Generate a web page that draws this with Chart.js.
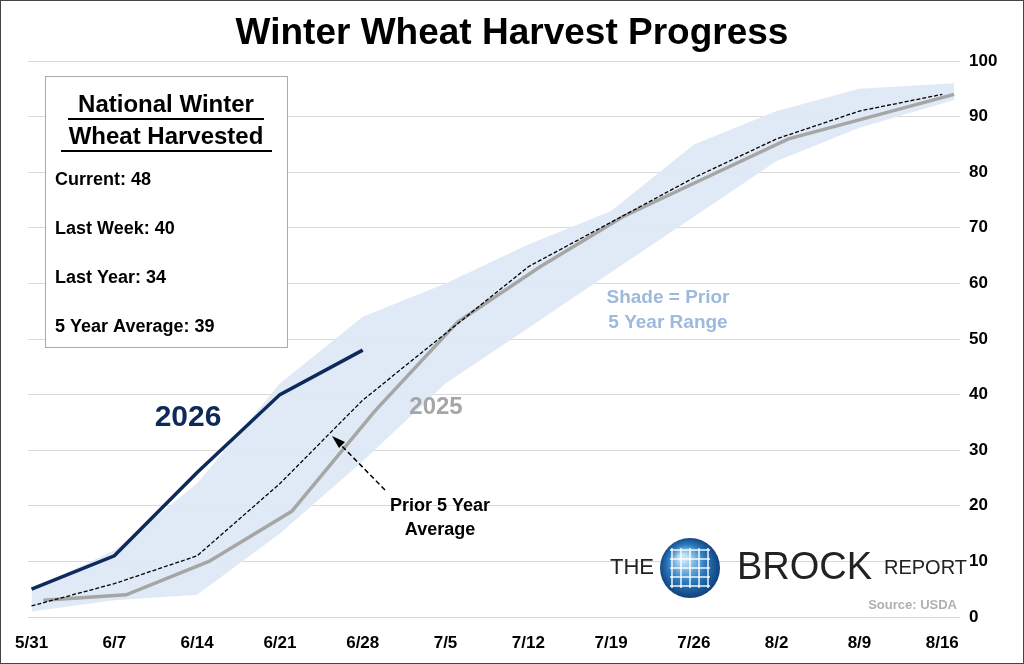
<!DOCTYPE html>
<html><head><meta charset="utf-8">
<script src="https://cdn.jsdelivr.net/npm/chart.js@4"></script>
<style>html,body{margin:0;padding:0;background:#fff}canvas{display:block}</style>
</head><body>
<div style="width:1024px;height:664px"><canvas id="c"></canvas></div>
<script>
// x = days since 5/31
const xLabels = ['5/31','6/7','6/14','6/21','6/28','7/5','7/12','7/19','7/26','8/2','8/9','8/16'];
const yTicks = [0,10,20,30,40,50,60,70,80,90,100];
const days2026 = [0,7,14,21,28];
const vals2026 = [5,11,26,40,48];
const days2025 = [1,8,15,22,29,36,43,50,57,64,71,78];
const vals2025 = [3,4,10,19,37,53,63,72,79,86,90,94];
const daysAvg = [0,7,14,21,28,35,42,49,56,63,70,77];
const valsAvg = [2,6,11,24,39,51,63,71,79,86,91,94];
const daysRange = [0,7,14,21,28,35,42,49,56,63,70,78];
const rangeMin = [1,3,4,15,28,42,52,62,72,82,88,93];
const rangeMax = [5,12,24,42,54,60,67,73,85,91,95,96];

const pts=(xs,ys)=>xs.map((x,i)=>({x,y:ys[i]}));
const F='"Liberation Sans", Arial, sans-serif';

const deco={id:'deco',
 afterDatasetsDraw(c){
  const g=c.ctx;
  g.save();
  g.strokeStyle='#444';g.lineWidth=1;g.strokeRect(0.5,0.5,1023,663);
  g.fillStyle='#000';g.font='bold 37px '+F;g.textAlign='center';g.textBaseline='middle';
  g.fillText('Winter Wheat Harvest Progress',512,34);
  g.fillStyle='#fff';g.fillRect(45,76,242,271);
  g.strokeStyle='#aaa';g.strokeRect(45.5,76.5,242,271);
  g.fillStyle='#000';g.font='bold 24px '+F;
  g.fillText('National Winter',166,105);g.fillText('Wheat Harvested',166,137);
  g.fillRect(68,118,196,2);g.fillRect(61,150,211,2);
  g.font='bold 18px '+F;g.textAlign='left';
  ['Current: 48','Last Week: 40','Last Year: 34','5 Year Average: 39'].forEach((t,i)=>g.fillText(t,55,180+i*49));
  g.textAlign='center';
  g.fillStyle='#0e2a5c';g.font='bold 30px '+F;g.fillText('2026',188,418);
  g.fillStyle='#a6a6a6';g.font='bold 24px '+F;g.fillText('2025',436,407);
  g.fillStyle='#9db9dc';g.font='bold 19px '+F;g.fillText('Shade = Prior',668,298);g.fillText('5 Year Range',668,323);
  g.fillStyle='#000';g.font='bold 18px '+F;g.fillText('Prior 5 Year',440,506);g.fillText('Average',440,530);
  g.strokeStyle='#000';g.lineWidth=1.5;g.setLineDash([5,3]);
  g.beginPath();g.moveTo(385,490);g.lineTo(337,441);g.stroke();g.setLineDash([]);
  g.beginPath();g.moveTo(332,436);g.lineTo(345,442);g.lineTo(339,448);g.closePath();g.fillStyle='#000';g.fill();
  g.font='22px '+F;g.fillStyle='#222';g.textAlign='left';g.fillText('THE',610,568);
  const gr=g.createRadialGradient(683,558,4,690,568,32);gr.addColorStop(0,'#bfe3f7');gr.addColorStop(0.5,'#2e7fc2');gr.addColorStop(1,'#0c3a75');
  g.fillStyle=gr;g.beginPath();g.arc(690,568,30,0,Math.PI*2);g.fill();
  g.strokeStyle='rgba(255,255,255,0.7)';g.lineWidth=2;
  for(let k=-2;k<=2;k++){g.beginPath();g.moveTo(670,568+k*9);g.lineTo(710,568+k*9);g.stroke();g.beginPath();g.moveTo(690+k*9,548);g.lineTo(690+k*9,588);g.stroke();}
  g.fillStyle='#222';g.font='38px '+F;g.fillText('BROCK',737,569);
  g.font='20px '+F;g.fillText('REPORT',884,568);
  g.fillStyle='#b0b0b0';g.font='bold 13px '+F;g.textAlign='right';g.fillText('Source: USDA',957,605);
  g.restore();
 }};

new Chart(document.getElementById('c'),{
 type:'line',
 data:{datasets:[
  {data:pts(daysRange,rangeMin),borderWidth:0,pointRadius:0,fill:false,order:5},
  {data:pts(daysRange,rangeMax),borderWidth:0,pointRadius:0,fill:'-1',backgroundColor:'rgba(222,233,246,0.95)',order:4},
  {data:pts(days2025,vals2025),borderColor:'#a6a6a6',borderWidth:3.5,pointRadius:0,order:3},
  {data:pts(daysAvg,valsAvg),borderColor:'#000',borderWidth:1.3,borderDash:[4,2],pointRadius:0,order:1},
  {data:pts(days2026,vals2026),borderColor:'#0e2a5c',borderWidth:3.5,pointRadius:0,order:0}
 ]},
 options:{responsive:true,maintainAspectRatio:false,animation:false,
  layout:{padding:{left:28,top:61,right:0,bottom:0}},
  plugins:{legend:{display:false},tooltip:{enabled:false}},
  scales:{
   x:{type:'linear',min:-0.3,max:78.5,grid:{display:false},border:{display:false},
     afterBuildTicks:s=>{s.ticks=xLabels.map((l,i)=>({value:i*7}));},
     afterFit:s=>{s.height=47;},
     ticks:{callback:(v)=>xLabels[v/7],color:'#000',font:{family:F,size:17,weight:'bold'},maxRotation:0,autoSkip:false,padding:8}},
   y:{position:'right',min:0,max:100,
     afterBuildTicks:s=>{s.ticks=yTicks.map(v=>({value:v}));},
     afterFit:s=>{s.width=64;},
     grid:{color:'#d9d9d9',drawTicks:false},border:{display:false},
     ticks:{color:'#000',font:{family:F,size:17,weight:'bold'},padding:9}}
  }},
 plugins:[deco]
});
</script></body></html>
